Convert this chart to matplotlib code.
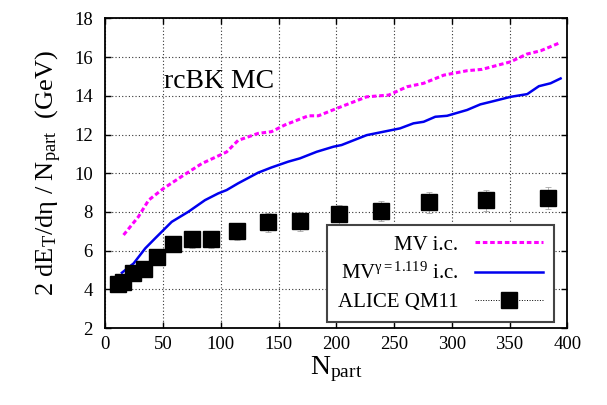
import numpy as np
import matplotlib
matplotlib.use("Agg")
import matplotlib.pyplot as plt
from matplotlib.lines import Line2D

# fonts: Times-like serif for everything, also inside mathtext
plt.rcParams['font.family'] = ['Liberation Serif', 'DejaVu Serif']
plt.rcParams['mathtext.fontset'] = 'custom'
plt.rcParams['mathtext.rm'] = 'Liberation Serif'
plt.rcParams['mathtext.it'] = 'Liberation Serif:italic'

# MV initial condition curve
mv_x = [15.8, 28.6, 37.5, 50.5, 67.8, 83.5, 99.3, 105, 115, 132.3, 143.9, 155.6, 168.5,
        175.8, 184.5, 200.3, 226.3, 245.3, 261.2, 275.6, 293, 313.2, 326.2, 350.9, 365,
        376.9, 394.2]
mv_y = [6.81, 7.75, 8.61, 9.22, 9.9, 10.5, 10.94, 11.1, 11.7, 12.06, 12.15, 12.5, 12.8,
        12.97, 12.97, 13.35, 13.95, 14.04, 14.47, 14.65, 15.07, 15.3, 15.37, 15.76, 16.16,
        16.33, 16.76]

# MV gamma=1.119 initial condition curve
mvg_x = [14.4, 24.5, 34.6, 43.2, 57.5, 71.9, 86.3, 97.8, 105, 115, 132.3, 143.9, 158.4,
         168.5, 183, 197.4, 204.6, 226.3, 255.2, 266.8, 275.6, 285.7, 295.9, 313.2, 324.7,
         336.3, 350.9, 365.3, 375.4, 385.5, 394.2]
mvg_y = [4.86, 5.34, 6.12, 6.64, 7.49, 8.01, 8.61, 8.96, 9.13, 9.48, 10.03, 10.3, 10.6,
         10.77, 11.11, 11.37, 11.46, 11.97, 12.32, 12.58, 12.66, 12.92, 12.97, 13.27, 13.56,
         13.73, 13.95, 14.09, 14.5, 14.65, 14.9]

# ALICE QM11 data points
alice_x = [11.3, 15.6, 24.3, 33.8, 45.0, 58.3, 74.7, 91.8, 114.3, 140.5, 168.2, 202,
           238.4, 280, 329.3, 383]
alice_y = [4.26, 4.39, 4.86, 5.03, 5.65, 6.32, 6.58, 6.58, 7.0, 7.46, 7.51, 7.87,
           8.03, 8.5, 8.6, 8.7]
alice_err = [0.28, 0.29, 0.32, 0.33, 0.37, 0.41, 0.43, 0.43, 0.45, 0.48, 0.49, 0.51,
             0.52, 0.55, 0.56, 0.57]

x_ticks = [0, 50, 100, 150, 200, 250, 300, 350, 400]
y_ticks = [2, 4, 6, 8, 10, 12, 14, 16, 18]

fig = plt.figure(figsize=(6.07, 4.05), dpi=100)
ax = fig.add_axes([0.1735, 0.190, 0.7611, 0.7644])

ax.plot(mv_x, mv_y, color='#ff00ff', lw=2.2, dashes=(1.5, 0.9), label='MV i.c.')
ax.plot(mvg_x, mvg_y, color='#0000ee', lw=1.8, label='MV$^{\\mathrm{γ=1.119}}$ i.c.')
ax.errorbar(alice_x, alice_y, yerr=alice_err, fmt='none', ecolor='#999999',
            elinewidth=0.5, capsize=2, capthick=0.5, ls=':')
ax.plot(alice_x, alice_y, 's', color='black', markersize=12, ls='none')

ax.text(51, 14.39, 'rcBK MC', fontsize=20, va='baseline', ha='left')

# axes ranges, ticks and grid
ax.set_xlim(0, 400)
ax.set_ylim(2, 18)
ax.set_xticks(x_ticks)
ax.set_yticks(y_ticks)
ax.tick_params(direction='in', top=True, right=True, length=4, width=1,
               labelsize=13.5)
ax.tick_params(axis='y', pad=9)
ax.tick_params(axis='x', pad=6)
ax.grid(True, color='#333333', linestyle=(0, (1, 2)), linewidth=0.8)
for s in ax.spines.values():
    s.set_linewidth(1.3)

ax.set_xlabel(r'N$_{\mathrm{part}}$', fontsize=20, labelpad=1)
ax.set_ylabel('2 dE$_{\\mathrm{T}}$/dη / N$_{\\mathrm{part}}$  (GeV)', fontsize=19,
              labelpad=7)

# gnuplot-like legend: text on the left, sample on the right
handles = [Line2D([], [], color='#ff00ff', lw=2.2, dashes=(1.5, 0.9)),
           Line2D([], [], color='#0000ee', lw=1.8),
           Line2D([], [], color='black', lw=0.7, ls=':', marker='s', markersize=12)]
labels = ['MV i.c.', 'MV$^{\\mathrm{γ=1.119}}$ i.c.', 'ALICE QM11']
leg = ax.legend(handles, labels, loc='lower right', bbox_to_anchor=(0.971, 0.018),
                borderaxespad=0, markerfirst=False, fontsize=15, handlelength=3.3,
                handletextpad=0.8, labelspacing=0.4, borderpad=0.5, fancybox=False,
                framealpha=1)
leg.get_frame().set_edgecolor('#444444')
leg.get_frame().set_linewidth(1.5)

plt.savefig('out.png', dpi=100)
